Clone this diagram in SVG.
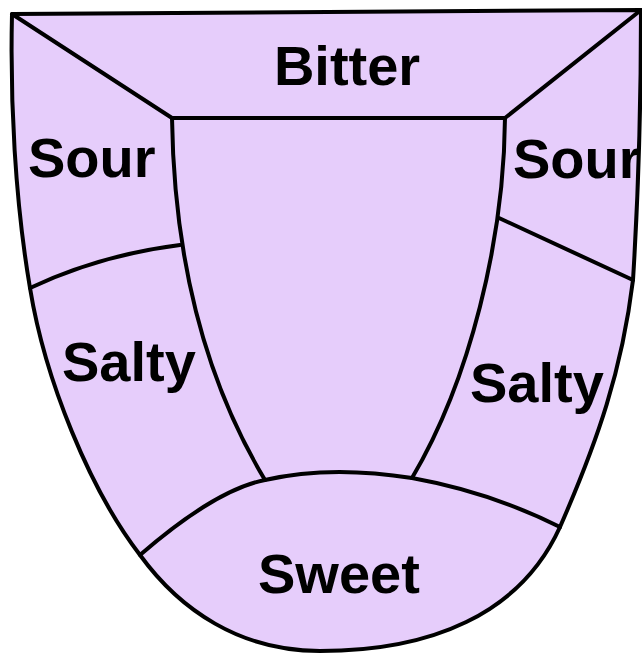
<svg xmlns="http://www.w3.org/2000/svg" width="642" height="653" viewBox="0 0 642 653">
<style>
.tongue{fill:#e6cdfb;stroke:#000;stroke-width:4;stroke-linejoin:round}
.line{fill:none;stroke:#000;stroke-width:4;stroke-linecap:round;stroke-linejoin:round}
.lbl{font-family:"Liberation Sans",Arial,sans-serif;font-weight:bold;font-size:56px;fill:#000}
</style>
<rect width="642" height="653" fill="#fff"/>
<g id="tongue">
<path class="tongue" d="M12,14 L641,10 C641,100 638,200 633,280 C622,370 598,440 560,527 C520,615 430,651 320,651 C240,651 180,610 140,555 C90,490 45,380 30,288 C15,200 10,100 12,14 Z"/>
</g>
<g id="connectors">
<path class="line" d="M12,14 L172,118 L505,118 L641,10"/>
<path class="line" d="M172,118 C174,260 205,380 265,480"/>
<path class="line" d="M505,118 C504,240 470,380 412,478"/>
<path class="line" d="M30,288 Q100,255 180,245"/>
<path class="line" d="M499,218 L633,280"/>
<path class="line" d="M140,555 Q215,490 265,480 Q330,465 412,478 Q490,492 560,527"/>
</g>
<g id="bitter"><text class="lbl" x="347" y="85" text-anchor="middle">Bitter</text></g>
<g id="sour-left"><text class="lbl" x="28" y="177">Sour</text></g>
<g id="sour-right"><text class="lbl" x="513" y="178">Sour</text></g>
<g id="salty-left"><text class="lbl" x="62" y="381">Salty</text></g>
<g id="salty-right"><text class="lbl" x="470" y="402">Salty</text></g>
<g id="sweet"><text class="lbl" x="258" y="593">Sweet</text></g>
</svg>
